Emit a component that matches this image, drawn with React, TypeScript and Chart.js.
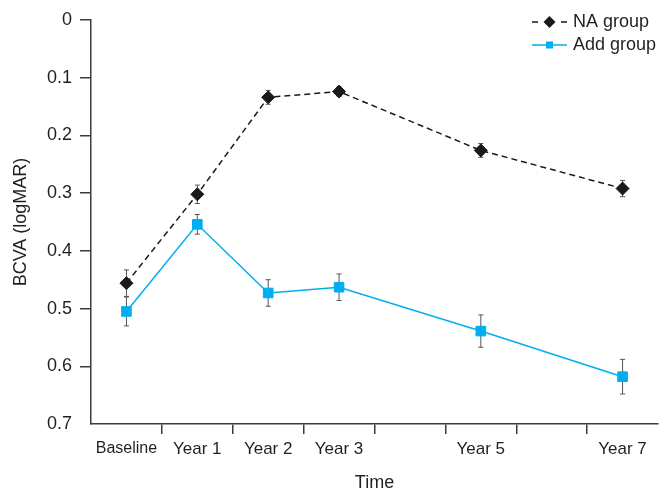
import React, { useEffect, useRef } from "react";
import { Chart, registerables } from "chart.js";

Chart.register(...registerables);

const categories = ["Baseline", "Year 1", "Year 2", "Year 3", "Year 5", "Year 7"];
const timePoints = [0, 1, 2, 3, 5, 7];
const naMean = [0.456, 0.302, 0.134, 0.124, 0.226, 0.292];
const naErr = [0.023, 0.016, 0.012, 0.008, 0.012, 0.014];
const addMean = [0.505, 0.354, 0.473, 0.463, 0.539, 0.618];
const addErr = [0.025, 0.017, 0.023, 0.023, 0.028, 0.03];
const yTicks = [0, 0.1, 0.2, 0.3, 0.4, 0.5, 0.6, 0.7];
const seriesNames = ["NA group", "Add group"];

const FONT = "'Liberation Sans', Arial, Helvetica, sans-serif";
const TEXT = "#231f20";
const AXIS = "#3c3c3c";
const BLUE = "#00aeef";
const BLACK = "#1a1a1a";
const ERR = "#555555";

const errors = [naErr, addErr];

const errorBarPlugin = {
  id: "errorBars",
  beforeDatasetsDraw(chart: any) {
    const { ctx, scales } = chart;
    const xs = scales.x;
    const ys = scales.y;
    ctx.save();
    ctx.strokeStyle = ERR;
    ctx.lineWidth = 1;
    chart.data.datasets.forEach((ds: any, di: number) => {
      ds.data.forEach((pt: any, i: number) => {
        const e = errors[di][i];
        const px = xs.getPixelForValue(pt.x);
        const y1 = ys.getPixelForValue(pt.y - e);
        const y2 = ys.getPixelForValue(pt.y + e);
        ctx.beginPath();
        ctx.moveTo(px, y1);
        ctx.lineTo(px, y2);
        ctx.moveTo(px - 2.5, y1);
        ctx.lineTo(px + 2.5, y1);
        ctx.moveTo(px - 2.5, y2);
        ctx.lineTo(px + 2.5, y2);
        ctx.stroke();
      });
    });
    ctx.restore();
  },
};

const legendPlugin = {
  id: "customLegend",
  afterDraw(chart: any) {
    const { ctx, chartArea } = chart;
    const x0 = chartArea.right - 126;
    const x1 = chartArea.right - 91;
    const xm = (x0 + x1) / 2;
    const tx = chartArea.right - 85;
    const rows = [chartArea.top + 2, chartArea.top + 25];
    ctx.save();
    // NA group
    ctx.strokeStyle = BLACK;
    ctx.lineWidth = 1.5;
    ctx.beginPath();
    ctx.moveTo(x0, rows[0]);
    ctx.lineTo(x0 + 6, rows[0]);
    ctx.moveTo(x1 - 6, rows[0]);
    ctx.lineTo(x1, rows[0]);
    ctx.stroke();
    ctx.fillStyle = BLACK;
    ctx.beginPath();
    ctx.moveTo(xm - 6, rows[0]);
    ctx.lineTo(xm, rows[0] - 6);
    ctx.lineTo(xm + 6, rows[0]);
    ctx.lineTo(xm, rows[0] + 6);
    ctx.closePath();
    ctx.fill();
    // Add group
    ctx.strokeStyle = BLUE;
    ctx.beginPath();
    ctx.moveTo(x0, rows[1]);
    ctx.lineTo(x1, rows[1]);
    ctx.stroke();
    ctx.fillStyle = BLUE;
    ctx.fillRect(xm - 3.5, rows[1] - 3.5, 7, 7);
    // text
    ctx.fillStyle = TEXT;
    ctx.font = `18px ${FONT}`;
    ctx.textAlign = "left";
    ctx.textBaseline = "middle";
    ctx.fillText(seriesNames[0], tx, rows[0]);
    ctx.fillText(seriesNames[1], tx, rows[1]);
    ctx.restore();
  },
};

export default function App() {
  const ref = useRef<HTMLCanvasElement>(null);

  useEffect(() => {
    if (!ref.current) return;
    const chart = new Chart(ref.current, {
      type: "line",
      data: {
        datasets: [
          {
            label: seriesNames[0],
            data: timePoints.map((x, i) => ({ x, y: naMean[i] })),
            borderColor: BLACK,
            backgroundColor: BLACK,
            borderWidth: 1.5,
            borderDash: [6, 4],
            pointStyle: "rectRot",
            pointRadius: 6.5,
            pointBorderWidth: 1,
            tension: 0,
          },
          {
            label: seriesNames[1],
            data: timePoints.map((x, i) => ({ x, y: addMean[i] })),
            borderColor: BLUE,
            backgroundColor: BLUE,
            borderWidth: 1.5,
            pointStyle: "rect",
            pointRadius: 6.8,
            pointBorderWidth: 1,
            tension: 0,
          },
        ],
      },
      options: {
        animation: false,
        responsive: false,
        layout: { padding: { left: 0, right: 13, top: 20, bottom: 0 } },
        plugins: {
          legend: { display: false },
          tooltip: { enabled: false },
        },
        scales: {
          x: {
            type: "linear",
            min: -0.5,
            max: 7.5,
            afterBuildTicks: (scale: any) => {
              const t = [];
              for (let v = 0; v <= 7; v++) t.push({ value: v });
              scale.ticks = t;
            },
            afterFit: (scale: any) => {
              scale.height = 79;
            },
            border: { display: true, color: AXIS, width: 1.5 },
            grid: {
              offset: true,
              drawOnChartArea: false,
              drawTicks: true,
              tickLength: 10,
              lineWidth: 1.5,
              tickColor: (c: any) =>
                c.type !== "tick" || c.index === 0 ? "rgba(0,0,0,0)" : AXIS,
            },
            ticks: {
              autoSkip: false,
              maxRotation: 0,
              padding: 5,
              color: TEXT,
              font: (c: any) => ({
                family: FONT,
                size: c.index === 0 ? 16 : 17,
              }),
              callback: (v: any) => {
                const i = timePoints.indexOf(Number(v));
                return i >= 0 ? categories[i] : "";
              },
            },
            title: {
              display: true,
              text: "Time",
              color: TEXT,
              font: { family: FONT, size: 18 },
              padding: { top: 0, bottom: 9 },
            },
          },
          y: {
            type: "linear",
            reverse: true,
            min: 0,
            max: 0.7,
            afterBuildTicks: (scale: any) => {
              scale.ticks = yTicks.map((v) => ({ value: v }));
            },
            afterFit: (scale: any) => {
              scale.width = 91;
            },
            border: { display: true, color: AXIS, width: 1.5 },
            grid: {
              drawOnChartArea: false,
              drawTicks: true,
              tickLength: 11,
              lineWidth: 1.5,
              tickColor: (c: any) =>
                c.type === "tick" && c.tick && c.tick.value > 0.69
                  ? "rgba(0,0,0,0)"
                  : AXIS,
            },
            ticks: {
              padding: 8,
              color: TEXT,
              font: { family: FONT, size: 18 },
              callback: (v: any) => String(Math.round(Number(v) * 10) / 10),
            },
            title: {
              display: true,
              text: "BCVA (logMAR)",
              color: TEXT,
              font: { family: FONT, size: 18 },
              padding: { top: 10, bottom: 0 },
            },
          },
        },
      },
      plugins: [errorBarPlugin, legendPlugin],
    } as any);
    return () => chart.destroy();
  }, []);

  return (
    <div style={{ position: "absolute", left: 0, top: 0, width: 671, height: 503 }}>
      <canvas ref={ref} width={671} height={503} style={{ display: "block" }} />
    </div>
  );
}
